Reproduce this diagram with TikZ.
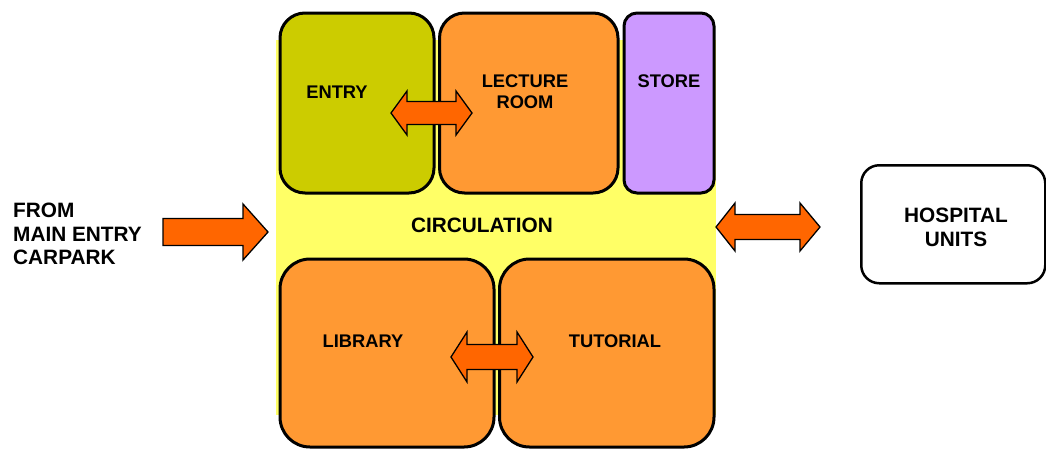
\documentclass[tikz,border=0pt]{standalone}
\usepackage{fontspec}
\setmainfont{Liberation Sans}
\definecolor{olivey}{HTML}{CCCC00}
\definecolor{roomor}{HTML}{FF9933}
\definecolor{lav}{HTML}{CC99FF}
\definecolor{circ}{HTML}{FFFF66}
\definecolor{fatarrow}{HTML}{FF6600}
\tikzset{
  room/.style={draw=black, line width=3pt, rounded corners=25pt, inner sep=0pt, anchor=north west},
  lbl/.style={font=\fontsize{18.3}{21}\selectfont\bfseries, align=center, inner sep=0pt},
  biglbl/.style={font=\fontsize{20.8}{24.5}\selectfont\bfseries, align=center, inner sep=0pt},
  fat/.style={fill=fatarrow, draw=black, line width=1.3pt, line join=miter}
}
\begin{document}
\begin{tikzpicture}[x=1pt,y=-1pt]
\useasboundingbox (0,0) rectangle (1046,448);
% circulation zone behind the rooms
\fill[circ] (276,40) rectangle (716,415);
% rooms
\node[room, fill=olivey, minimum width=154pt, minimum height=180pt] (entry) at (278.5,11.5) {};
\node[room, fill=roomor, minimum width=178.5pt, minimum height=180pt] (lecture) at (438,11.5) {};
\node[room, fill=lav, rounded corners=13pt, minimum width=90pt, minimum height=180pt] (store) at (622.5,11.5) {};
\node[room, fill=roomor, rounded corners=30pt, minimum width=214pt, minimum height=188pt] (library) at (278.5,257.5) {};
\node[room, fill=roomor, rounded corners=30pt, minimum width=214.5pt, minimum height=188pt] (tutorial) at (498,257.5) {};
\node[room, fill=white, line width=2.5pt, rounded corners=18pt, minimum width=184pt, minimum height=118pt] (hospital) at (860,164) {};
% labels
\node[lbl] (tentry) at (337,92.5) {ENTRY};
\node[lbl] (tlecture) at (525,91.5) {LECTURE\\ROOM};
\node[lbl] (tstore) at (669,81) {STORE};
\node[biglbl] (tcirc) at (482,225) {CIRCULATION};
\node[lbl] (tlib) at (363,341) {LIBRARY};
\node[lbl] (ttut) at (615,341) {TUTORIAL};
\node[biglbl] (thosp) at (956,227.5) {HOSPITAL\\UNITS};
\node[biglbl, align=left, anchor=west, font=\fontsize{20.8}{23.5}\selectfont\bfseries] (tfrom) at (13,234) {FROM\\MAIN ENTRY\\CARPARK};
% block arrows
\filldraw[fat] (391,113) -- (407,91) -- (407,101.5) -- (456,101.5) -- (456,91) -- (472,113)
  -- (456,135) -- (456,124.5) -- (407,124.5) -- (407,135) -- cycle;
\filldraw[fat] (451,357) -- (467,332) -- (467,344.5) -- (517,344.5) -- (517,332) -- (533,357)
  -- (517,382) -- (517,369.5) -- (467,369.5) -- (467,382) -- cycle;
\filldraw[fat] (163,218.5) -- (243,218.5) -- (243,204) -- (268,232) -- (243,260) -- (243,245.5)
  -- (163,245.5) -- cycle;
\filldraw[fat] (716,227) -- (735,203) -- (735,214.5) -- (800,214.5) -- (800,203) -- (820,227)
  -- (800,251) -- (800,239.5) -- (735,239.5) -- (735,251) -- cycle;
\end{tikzpicture}
\end{document}
